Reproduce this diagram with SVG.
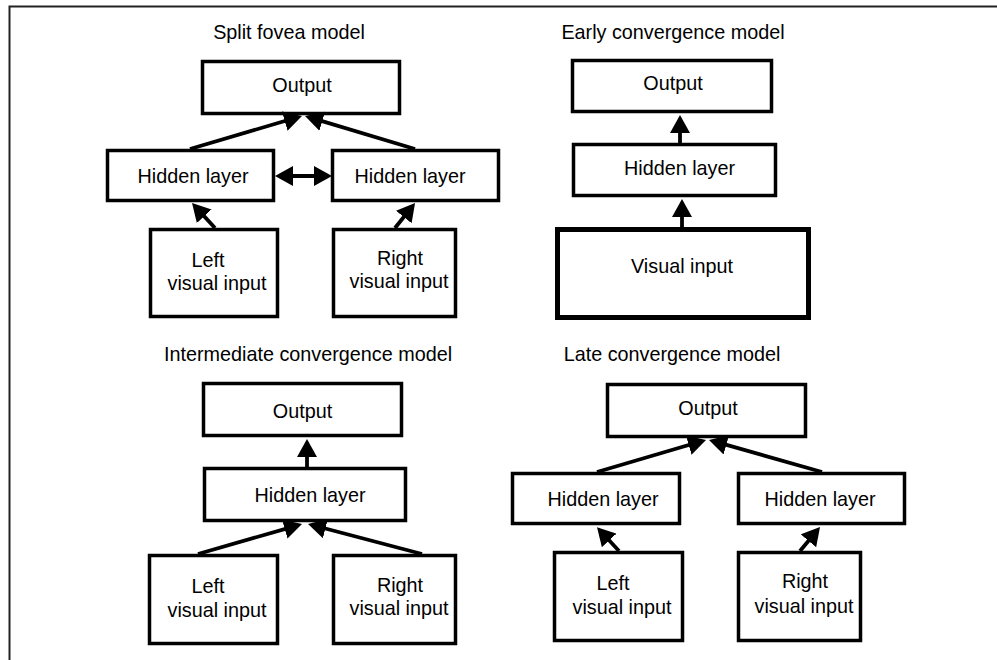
<svg xmlns="http://www.w3.org/2000/svg" width="997" height="660" viewBox="0 0 997 660">
<style>
  text { font-family: "Liberation Sans", Arial, sans-serif; font-size: 19.8px; fill: #000; text-anchor: middle; }
  .box { fill: #fff; stroke: #000; stroke-width: 3.5; }
  .thick { stroke-width: 5; }
  .conn line { stroke: #000; stroke-width: 3.8; fill: none; }
  .frame { fill: none; stroke: #222; stroke-width: 2; }
</style>
<defs>
  <marker id="ah" viewBox="0 0 18 20" refX="8" refY="10" markerWidth="18" markerHeight="20" markerUnits="userSpaceOnUse" orient="auto-start-reverse">
    <path d="M0,0 L18,10 L0,20 z" fill="#000"/>
  </marker>
</defs>
<rect width="997" height="660" fill="#fff"/>
<path class="frame" d="M9.5,660 V6.5 H997"/>

<g id="titles">
  <text x="289" y="39">Split fovea model</text>
  <text x="673" y="39">Early convergence model</text>
  <text x="308" y="361">Intermediate convergence model</text>
  <text x="672" y="361">Late convergence model</text>
</g>

<!-- Split fovea -->
<g id="sf-output"><rect class="box" x="202.5" y="61.5" width="197" height="52"/><text x="302" y="92">Output</text></g>
<g id="sf-hidden-left"><rect class="box" x="107.5" y="150.5" width="166" height="50"/><text x="193" y="183">Hidden layer</text></g>
<g id="sf-hidden-right"><rect class="box" x="332.5" y="150.5" width="166" height="50"/><text x="410" y="183">Hidden layer</text></g>
<g id="sf-input-left"><rect class="box" x="150.5" y="229.5" width="127" height="87"/><text x="208" y="267">Left</text><text x="217" y="290">visual input</text></g>
<g id="sf-input-right"><rect class="box" x="333.5" y="229.5" width="122" height="87"/><text x="400" y="265">Right</text><text x="399" y="288">visual input</text></g>

<!-- Early convergence -->
<g id="ec-output"><rect class="box" x="572.5" y="60.5" width="199" height="51"/><text x="673" y="90">Output</text></g>
<g id="ec-hidden"><rect class="box" x="573.5" y="144.5" width="202" height="51"/><text x="679.5" y="175">Hidden layer</text></g>
<g id="ec-input"><rect class="box thick" x="557.5" y="229.5" width="251" height="88"/><text x="682" y="273">Visual input</text></g>

<!-- Intermediate convergence -->
<g id="ic-output"><rect class="box" x="203.5" y="383.5" width="198" height="52"/><text x="302.5" y="418">Output</text></g>
<g id="ic-hidden"><rect class="box" x="204.5" y="468.5" width="201" height="52"/><text x="310" y="502">Hidden layer</text></g>
<g id="ic-input-left"><rect class="box" x="149.5" y="555.5" width="128" height="88"/><text x="208" y="593">Left</text><text x="217" y="617">visual input</text></g>
<g id="ic-input-right"><rect class="box" x="333.5" y="555.5" width="122" height="88"/><text x="400" y="592">Right</text><text x="399" y="615">visual input</text></g>

<!-- Late convergence -->
<g id="lc-output"><rect class="box" x="607.5" y="384.5" width="198" height="52"/><text x="708" y="415">Output</text></g>
<g id="lc-hidden-left"><rect class="box" x="512.5" y="473.5" width="167" height="50"/><text x="603" y="506">Hidden layer</text></g>
<g id="lc-hidden-right"><rect class="box" x="738.5" y="473.5" width="166" height="50"/><text x="820" y="506">Hidden layer</text></g>
<g id="lc-input-left"><rect class="box" x="554.5" y="552.5" width="128" height="88"/><text x="613" y="590">Left</text><text x="622" y="614">visual input</text></g>
<g id="lc-input-right"><rect class="box" x="738.5" y="552.5" width="122" height="88"/><text x="805" y="588">Right</text><text x="804" y="613">visual input</text></g>

<g id="connectors" class="conn">
  <line x1="190" y1="149" x2="292.4" y2="118.8" marker-end="url(#ah)"/>
  <line x1="415" y1="149" x2="314.6" y2="118.9" marker-end="url(#ah)"/>
  <line x1="285" y1="176" x2="322" y2="176" marker-start="url(#ah)" marker-end="url(#ah)"/>
  <line x1="215" y1="228" x2="198.8" y2="210.4" marker-end="url(#ah)"/>
  <line x1="395" y1="228" x2="408.8" y2="210.8" marker-end="url(#ah)"/>

  <line x1="680" y1="143" x2="680" y2="125" marker-end="url(#ah)"/>
  <line x1="682" y1="227" x2="682" y2="209" marker-end="url(#ah)"/>

  <line x1="307" y1="467" x2="307" y2="449" marker-end="url(#ah)"/>
  <line x1="198" y1="554" x2="292.4" y2="526.8" marker-end="url(#ah)"/>
  <line x1="422" y1="554" x2="317.7" y2="526.5" marker-end="url(#ah)"/>

  <line x1="597" y1="472" x2="696.4" y2="442.8" marker-end="url(#ah)"/>
  <line x1="822" y1="472" x2="718.6" y2="442.7" marker-end="url(#ah)"/>
  <line x1="619" y1="551" x2="603.8" y2="534.5" marker-end="url(#ah)"/>
  <line x1="800" y1="551" x2="813.6" y2="534.7" marker-end="url(#ah)"/>
</g>
</svg>
